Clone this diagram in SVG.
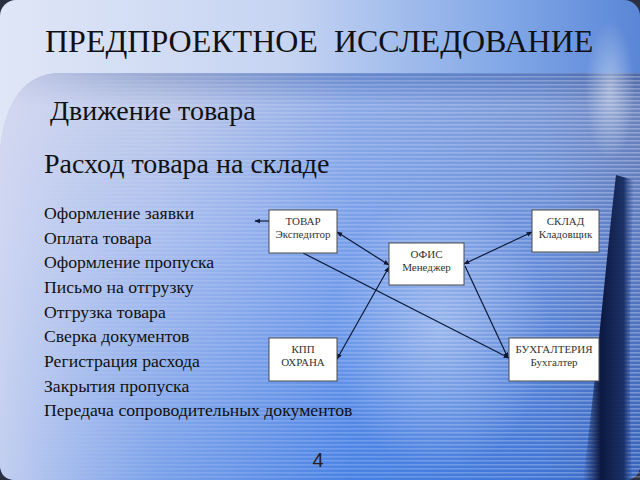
<svg xmlns="http://www.w3.org/2000/svg" width="640" height="480" viewBox="0 0 640 480">
<defs>
<linearGradient id="top" x1="0" y1="0" x2="1" y2="0">
<stop offset="0" stop-color="#dfe6f6"/><stop offset="0.45" stop-color="#c6d4f2"/><stop offset="0.8" stop-color="#7fa6e6"/><stop offset="1" stop-color="#5a86d6"/>
</linearGradient>
<linearGradient id="panelV" x1="0" y1="0" x2="0" y2="1">
<stop offset="0" stop-color="#7c8fc0"/><stop offset="0.08" stop-color="#b9c5e8"/><stop offset="0.4" stop-color="#9ab4ee"/><stop offset="1" stop-color="#4f86e6"/>
</linearGradient>
<linearGradient id="panelH" x1="0" y1="0" x2="1" y2="0">
<stop offset="0" stop-color="#d8dcf2" stop-opacity="0.85"/><stop offset="0.25" stop-color="#c8d2f0" stop-opacity="0.35"/><stop offset="0.55" stop-color="#3a78e4" stop-opacity="0.35"/><stop offset="0.85" stop-color="#2c5fc0" stop-opacity="0.45"/><stop offset="1" stop-color="#1c3f90" stop-opacity="0.5"/>
</linearGradient>
<radialGradient id="glow" cx="0.5" cy="0.5" r="0.5">
<stop offset="0" stop-color="#ffffff" stop-opacity="0.7"/><stop offset="1" stop-color="#ffffff" stop-opacity="0"/>
</radialGradient>
<linearGradient id="band" x1="0" y1="0" x2="1" y2="0">
<stop offset="0" stop-color="#0f1d4a" stop-opacity="0"/><stop offset="0.35" stop-color="#0c1840" stop-opacity="1"/><stop offset="0.8" stop-color="#14285c" stop-opacity="0.9"/><stop offset="1" stop-color="#2a4a98" stop-opacity="0"/>
</linearGradient>
<linearGradient id="stripeMask" x1="0" y1="0" x2="1" y2="0">
<stop offset="0" stop-color="#fff" stop-opacity="0"/><stop offset="0.35" stop-color="#fff" stop-opacity="0.5"/><stop offset="1" stop-color="#fff" stop-opacity="1"/>
</linearGradient>
<pattern id="stripes" x="0" y="0" width="8" height="4" patternUnits="userSpaceOnUse">
<rect x="0" y="0" width="8" height="1.6" fill="#ffffff" fill-opacity="0.28"/>
</pattern>
<mask id="sm"><rect x="0" y="0" width="640" height="480" fill="url(#stripeMask)"/></mask>
<marker id="ah" viewBox="0 0 10 10" refX="9" refY="5" markerWidth="6" markerHeight="6" orient="auto-start-reverse" markerUnits="userSpaceOnUse">
<path d="M0,1 L10,5 L0,9 z" fill="#0d1a3a"/>
</marker>
<style>
text{font-family:'Liberation Serif','DejaVu Serif','Times New Roman',serif}
.ttl{fill:#111;white-space:pre}
.lst{font-size:17.7px;fill:#111}
.box{fill:#ffffff;stroke:#4a4a4a;stroke-width:1}
.bt{font-size:11px;fill:#333;text-anchor:middle}
.con{stroke:#0d1a3a;stroke-width:1.2;fill:none}
.num{font-family:'Liberation Sans',Arial,sans-serif;font-size:20px;fill:#222;text-anchor:middle}
</style>
</defs>
<rect width="640" height="480" fill="#2a3040"/>
<rect x="0" y="0" width="640" height="480" rx="16" fill="url(#top)"/>
<path d="M0,150 C5,100 25,74 60,73 L640,73 L640,464 Q640,480 624,480 L16,480 Q0,480 0,464 Z" fill="url(#panelV)"/>
<path d="M0,150 C5,100 25,74 60,73 L640,73 L640,464 Q640,480 624,480 L16,480 Q0,480 0,464 Z" fill="url(#panelH)"/>
<ellipse cx="440" cy="330" rx="110" ry="140" fill="url(#glow)" opacity="0.5"/>
<path d="M0,150 C5,100 25,74 60,73 L640,73 L640,480 L0,480 Z" fill="url(#stripes)" mask="url(#sm)"/>
<path d="M583,480 C596,380 606,260 616,175 L634,180 C630,280 628,380 632,480 Z" fill="url(#band)"/>
<ellipse cx="610" cy="90" rx="25" ry="70" fill="url(#glow)" opacity="0.6"/>

<text class="ttl" x="45" y="52" font-size="32" font-family="'Liberation Serif', 'DejaVu Serif', serif" xml:space="preserve">ПРЕДПРОЕКТНОЕ  ИССЛЕДОВАНИЕ</text>
<text class="ttl" x="50" y="120" font-size="28" font-family="'Liberation Serif', 'DejaVu Serif', serif">Движение товара</text>
<text class="ttl" x="44" y="173" font-size="28" font-family="'Liberation Serif', 'DejaVu Serif', serif">Расход товара на складе</text>
<g font-family="'Liberation Serif', 'DejaVu Serif', serif">
<text class="lst" x="44" y="219">Оформление заявки</text>
<text class="lst" x="44" y="244">Оплата товара</text>
<text class="lst" x="44" y="268">Оформление пропуска</text>
<text class="lst" x="44" y="293">Письмо на отгрузку</text>
<text class="lst" x="44" y="318">Отгрузка товара</text>
<text class="lst" x="44" y="342">Сверка документов</text>
<text class="lst" x="44" y="367">Регистрация расхода</text>
<text class="lst" x="44" y="392">Закрытия пропуска</text>
<text class="lst" x="44" y="416">Передача сопроводительных документов</text>
</g>

<g id="connectors">
<line class="con" x1="269" y1="221" x2="255" y2="221" marker-end="url(#ah)"/>
<line class="con" x1="337" y1="232" x2="389" y2="265" marker-start="url(#ah)" marker-end="url(#ah)"/>
<line class="con" x1="389" y1="267" x2="337" y2="359" marker-start="url(#ah)" marker-end="url(#ah)"/>
<line class="con" x1="464" y1="264" x2="532" y2="232" marker-start="url(#ah)" marker-end="url(#ah)"/>
<line class="con" x1="303" y1="253" x2="509" y2="358" marker-end="url(#ah)"/>
<line class="con" x1="465" y1="266" x2="508" y2="358" marker-end="url(#ah)"/>
</g>

<g id="node-tovar" font-family="'Liberation Serif', 'DejaVu Serif', serif">
<rect class="box" x="269" y="210" width="68" height="43"/>
<text class="bt" x="303" y="225">ТОВАР</text>
<text class="bt" x="303" y="238">Экспедитор</text>
</g>
<g id="node-ofis" font-family="'Liberation Serif', 'DejaVu Serif', serif">
<rect class="box" x="389" y="243" width="75" height="42"/>
<text class="bt" x="426.5" y="258">ОФИС</text>
<text class="bt" x="426.5" y="271">Менеджер</text>
</g>
<g id="node-sklad" font-family="'Liberation Serif', 'DejaVu Serif', serif">
<rect class="box" x="532" y="210" width="67" height="42"/>
<text class="bt" x="565.5" y="225">СКЛАД</text>
<text class="bt" x="565.5" y="238">Кладовщик</text>
</g>
<g id="node-kpp" font-family="'Liberation Serif', 'DejaVu Serif', serif">
<rect class="box" x="269" y="338" width="68" height="43"/>
<text class="bt" x="303" y="353">КПП</text>
<text class="bt" x="303" y="366">ОХРАНА</text>
</g>
<g id="node-buh" font-family="'Liberation Serif', 'DejaVu Serif', serif">
<rect class="box" x="509" y="338" width="90" height="43"/>
<text class="bt" x="554" y="353">БУХГАЛТЕРИЯ</text>
<text class="bt" x="554" y="366">Бухгалтер</text>
</g>

<text class="num" x="318" y="467">4</text>
</svg>
